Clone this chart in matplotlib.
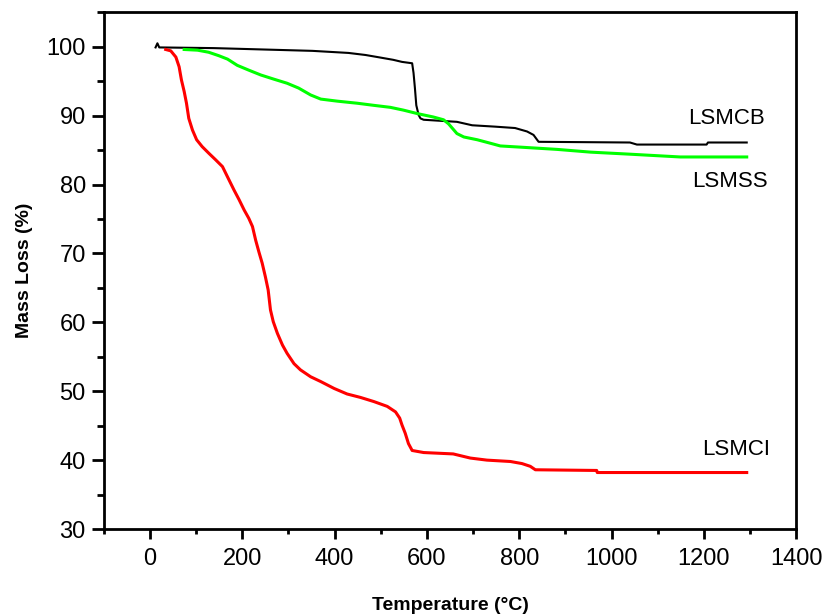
import matplotlib
matplotlib.use("Agg")
import matplotlib.pyplot as plt
from matplotlib.ticker import MultipleLocator

# LSMCB (black)
t_cb = [12, 16, 20, 138, 352, 430, 467, 493, 527, 546, 568, 571, 574, 577, 582, 586, 593,
        665, 698, 748, 791, 817, 831, 842, 1040, 1055, 1206, 1209, 1293]
m_cb = [99.9, 100.5, 99.9, 99.8, 99.4, 99.1, 98.8, 98.5, 98.1, 97.8, 97.6, 96.2, 94.0, 91.5,
        90.1, 89.6, 89.4, 89.1, 88.6, 88.4, 88.2, 87.7, 87.2, 86.2, 86.1, 85.8, 85.8, 86.1, 86.1]

# LSMSS (green)
t_ss = [74, 103, 127, 149, 168, 189, 214, 240, 268, 297, 322, 348, 370, 406, 449, 484, 521,
        549, 579, 614, 636, 647, 665, 680, 709, 737, 759, 809, 882, 955, 1041, 1149, 1293]
m_ss = [99.6, 99.5, 99.2, 98.7, 98.2, 97.3, 96.6, 95.9, 95.3, 94.7, 94.0, 93.0, 92.4, 92.1,
        91.8, 91.5, 91.2, 90.8, 90.3, 89.8, 89.4, 88.8, 87.4, 86.9, 86.5, 86.0, 85.6, 85.4,
        85.1, 84.7, 84.4, 84.0, 84.0]

# LSMCI (red)
t_ci = [34, 45, 56, 63, 68, 74, 79, 84, 92, 101, 113, 128, 142, 157, 168, 182, 193, 204,
        214, 222, 229, 236, 243, 250, 256, 261, 267, 276, 287, 297, 312, 326, 348, 370, 399,
        427, 456, 485, 514, 532, 541, 546, 553, 560, 568, 593, 657, 694, 730, 781, 806, 824,
        835, 968, 969, 1293]
m_ci = [99.6, 99.4, 98.5, 97.1, 95.2, 93.5, 91.8, 89.6, 87.9, 86.5, 85.5, 84.5, 83.6, 82.6,
        81.1, 79.2, 77.8, 76.3, 75.1, 73.9, 71.9, 70.2, 68.6, 66.6, 64.7, 61.8, 60.1, 58.4,
        56.7, 55.5, 54.0, 53.1, 52.1, 51.4, 50.4, 49.6, 49.1, 48.5, 47.8, 47.0, 46.1, 45.1,
        43.9, 42.4, 41.4, 41.1, 40.9, 40.3, 40.0, 39.8, 39.5, 39.1, 38.6, 38.5, 38.2, 38.2]

labels = ["LSMCB", "LSMSS", "LSMCI"]
label_pos = [(1166, 89.6), (1175, 80.5), (1196, 41.5)]

plt.rcParams['font.family'] = ['Liberation Sans', 'DejaVu Sans']

fig = plt.figure(figsize=(8.31, 6.14), dpi=100, facecolor='white')
ax = fig.add_axes([0.125, 0.1384, 0.833, 0.8416])

ax.plot(t_cb, m_cb, color='black', lw=1.5)
ax.plot(t_ss, m_ss, color='#00ff00', lw=2.2)
ax.plot(t_ci, m_ci, color='#ff0000', lw=2.2)

for lab, (x, y) in zip(labels, label_pos):
    ax.text(x, y, lab, fontsize=16, va='center', ha='left')

ax.set_xlim(-100, 1400)
ax.set_ylim(30, 105)
ax.xaxis.set_major_locator(MultipleLocator(200))
ax.xaxis.set_minor_locator(MultipleLocator(100))
ax.yaxis.set_major_locator(MultipleLocator(10))
ax.yaxis.set_minor_locator(MultipleLocator(5))
ax.set_yticks(range(30, 101, 10))

for s in ax.spines.values():
    s.set_linewidth(2)
ax.tick_params(axis='x', which='major', length=7, width=2, labelsize=17, pad=7)
ax.tick_params(axis='x', which='minor', length=3.5, width=2)
ax.tick_params(axis='y', which='major', length=9, width=2, labelsize=17, pad=4)
ax.tick_params(axis='y', which='minor', length=5, width=2)

ax.set_xlabel("Temperature (°C)", fontsize=14, fontweight='bold', labelpad=19)
ax.set_ylabel("Mass Loss (%)", fontsize=14, fontweight='bold', labelpad=10)

plt.savefig("out.png", dpi=100)
